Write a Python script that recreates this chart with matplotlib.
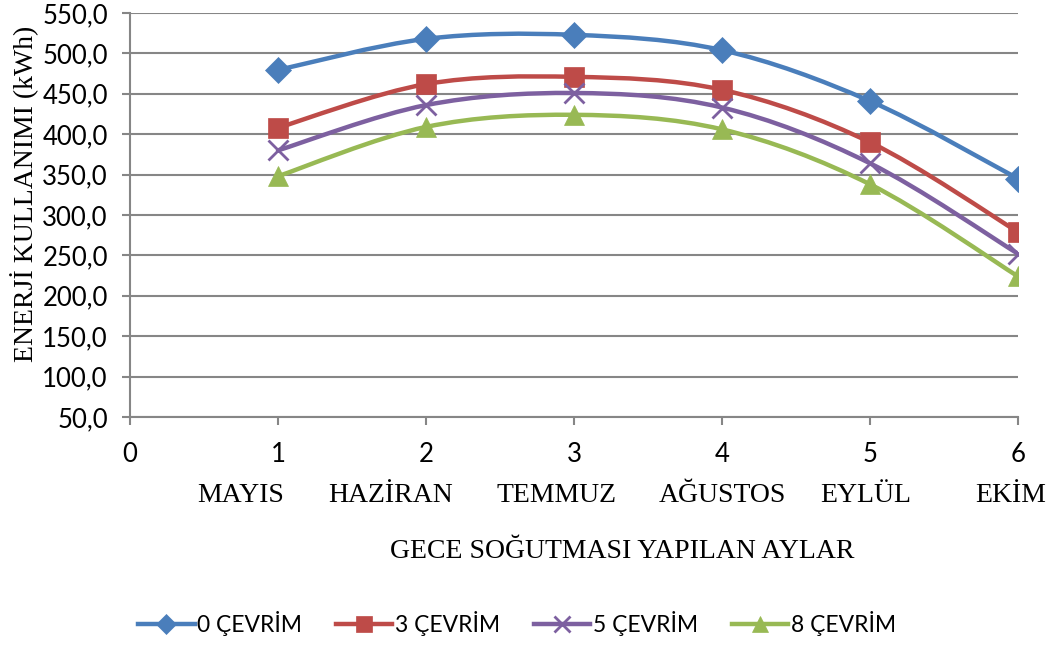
import matplotlib.pyplot as plt
import numpy as np
from matplotlib.path import Path
from matplotlib.patches import PathPatch
from matplotlib.lines import Line2D

# veriler
months = [1, 2, 3, 4, 5, 6]
month_names = ['MAYIS', 'HAZİRAN', 'TEMMUZ', 'AĞUSTOS', 'EYLÜL', 'EKİM']
cevrim_0 = [479.5, 518.0, 523.0, 504.0, 441.0, 345.0]
cevrim_3 = [408.0, 462.0, 471.0, 455.0, 390.0, 279.0]
cevrim_5 = [380.0, 436.0, 451.0, 433.0, 364.0, 252.0]
cevrim_8 = [348.0, 409.0, 424.0, 406.0, 338.0, 224.0]
series_names = ['0 ÇEVRİM', '3 ÇEVRİM', '5 ÇEVRİM', '8 ÇEVRİM']

# görünüm
colors = ['#4A7EBB', '#BE4B48', '#7D60A0', '#98B954']
markers = ['D', 's', 'x', '^']
msizes = [13, 14, 14, 15]
month_label_x = [0.75, 1.76, 2.88, 4.0, 4.97, 5.95]
gray = '#868686'
sans = ['Lato', 'DejaVu Sans']
serif = ['Liberation Serif', 'DejaVu Serif']


def smooth_path(x, y):
    # Excel tarzı yumuşatılmış çizgi (Bezier)
    pts = list(zip(x, y))
    verts = [pts[0]]
    codes = [Path.MOVETO]
    n = len(pts)
    for i in range(n - 1):
        p0 = pts[i - 1] if i > 0 else pts[i]
        p1 = pts[i]
        p2 = pts[i + 1]
        p3 = pts[i + 2] if i + 2 < n else pts[i + 1]
        c1 = (p1[0] + (p2[0] - p0[0]) / 6, p1[1] + (p2[1] - p0[1]) / 6)
        c2 = (p2[0] - (p3[0] - p1[0]) / 6, p2[1] - (p3[1] - p1[1]) / 6)
        verts += [c1, c2, p2]
        codes += [Path.CURVE4] * 3
    return Path(verts, codes)


fig = plt.figure(figsize=(10.59, 6.45), dpi=100)
ax = fig.add_axes([130 / 1059, 1 - 417 / 645, (1018 - 130) / 1059, (417 - 13) / 645])

handles = []
for vals, name, c, m, ms in zip([cevrim_0, cevrim_3, cevrim_5, cevrim_8],
                                series_names, colors, markers, msizes):
    patch = PathPatch(smooth_path(months, vals), facecolor='none',
                      edgecolor=c, linewidth=3.2, zorder=3, capstyle='round')
    ax.add_patch(patch)
    mew = 2 if m == 'x' else 0.5
    ax.plot(months, vals, linestyle='none', marker=m, markersize=ms,
            color=c, markeredgecolor=c, markeredgewidth=mew, zorder=4)
    handles.append(Line2D([], [], color=c, linewidth=3.2, marker=m,
                          markersize=ms * 0.8, markeredgewidth=mew, label=name))

ax.set_xlim(0, 6)
ax.set_ylim(50, 550)
ax.set_xticks(range(0, 7))
ax.set_yticks(np.arange(50, 551, 50))
ax.set_yticklabels([f'{v:.1f}'.replace('.', ',') for v in np.arange(50, 551, 50)])

ax.grid(axis='y', color=gray, linewidth=1.5)
ax.set_axisbelow(True)
for s in ['top', 'right']:
    ax.spines[s].set_visible(False)
for s in ['left', 'bottom']:
    ax.spines[s].set_color(gray)
    ax.spines[s].set_linewidth(1.5)
ax.tick_params(axis='both', colors=gray, width=1.5, length=6, labelcolor='black')
ax.tick_params(axis='y', pad=10)
ax.tick_params(axis='x', pad=12)
for lab in ax.get_xticklabels() + ax.get_yticklabels():
    lab.set_fontfamily(sans)
    lab.set_fontsize(18.5)

for xm, name in zip(month_label_x, month_names):
    ax.text(xm, -0.21, name, transform=ax.get_xaxis_transform(), ha='center',
            va='baseline', fontsize=20, family=serif)

fig.text(622 / 1059, 1 - 552 / 645, 'GECE SOĞUTMASI YAPILAN AYLAR', ha='center',
         va='center', fontsize=20, family=serif)
fig.text(25 / 1059, 1 - 194 / 645, 'ENERJİ KULLANIMI (kWh)', ha='center',
         va='center', rotation=90, fontsize=20, family=serif)

fig.legend(handles=handles, loc='center', bbox_to_anchor=(517 / 1059, 1 - 624 / 645),
           ncol=4, frameon=False, prop={'family': sans, 'size': 16.5},
           handlelength=2.45, handletextpad=0.1, columnspacing=1.5)

fig.savefig('out.png', dpi=100)
